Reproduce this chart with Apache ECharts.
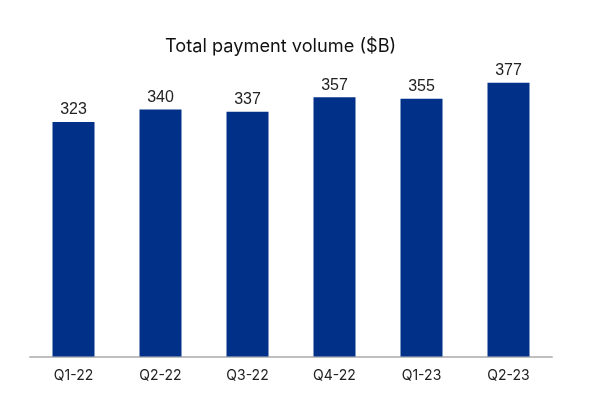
<!DOCTYPE html>
<html><head><meta charset="utf-8">
<script src="https://cdn.jsdelivr.net/npm/echarts@6/dist/echarts.min.js"></script>
<style>html,body{margin:0;padding:0;background:#fff}#c{width:590px;height:412px}</style>
</head><body><div id="c"></div>
<script>
const categories = ['Q1-22','Q2-22','Q3-22','Q4-22','Q1-23','Q2-23'];
const values = [323, 340, 337, 357, 355, 377];
const chart = echarts.init(document.getElementById('c'), null, {renderer:'canvas'});
chart.setOption({
  animation: false,
  backgroundColor: '#ffffff',
  title: {
    text: 'Total payment volume ($B)',
    left: 165, top: 38, padding: 0,
    textStyle: {fontFamily: 'Inter', fontSize: 18.2, fontWeight: 'normal', color: '#111'}
  },
  grid: {left: 30, right: 38, top: 66, bottom: 55.5, containLabel: false},
  xAxis: {
    type: 'category', data: categories,
    axisLine: {lineStyle: {color: '#BFBFBF', width: 2}},
    axisTick: {show: false},
    axisLabel: {fontFamily: 'Inter', fontSize: 14, color: '#222', margin: 12}
  },
  yAxis: {
    type: 'value', min: 0, max: 400, show: false,
    splitLine: {show: false}
  },
  series: [{
    type: 'bar', data: values, barWidth: 42,
    itemStyle: {color: '#003087'},
    label: {show: true, position: 'top', distance: 4,
      fontFamily: 'Liberation Sans', fontSize: 16, color: '#222'}
  }]
});
</script></body></html>
